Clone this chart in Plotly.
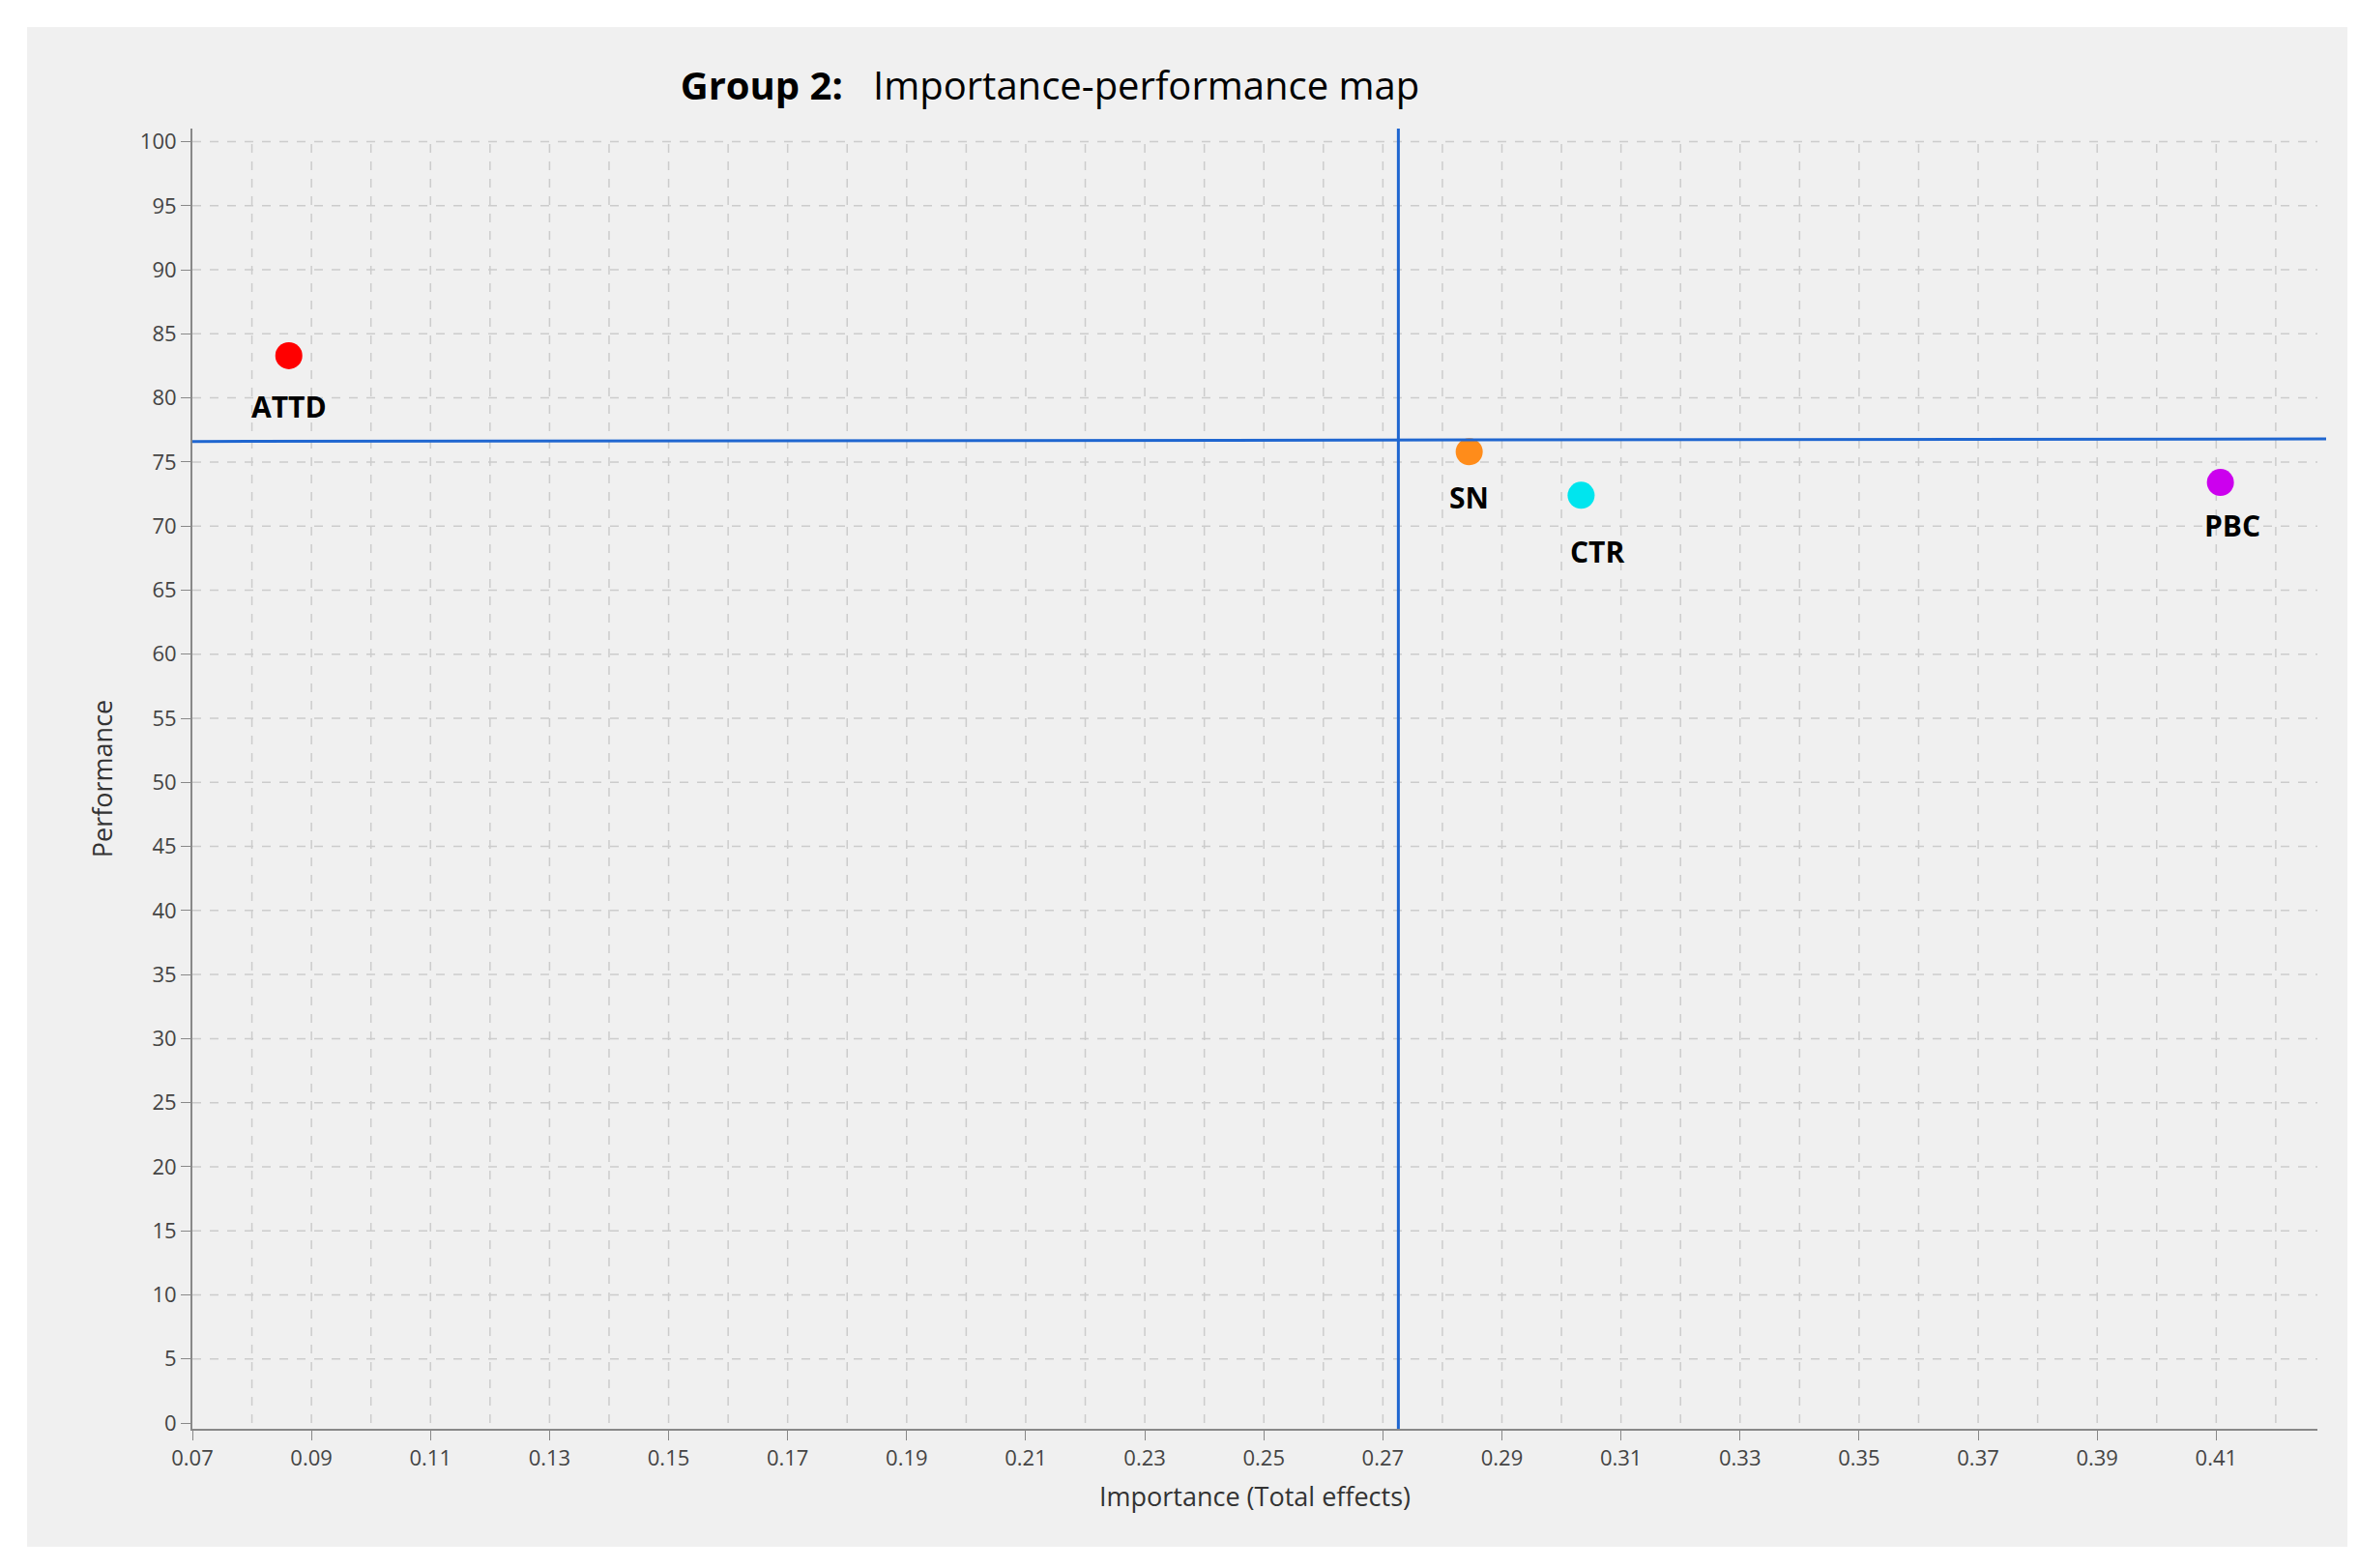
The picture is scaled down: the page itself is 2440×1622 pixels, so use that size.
import plotly.graph_objects as go

names = ["ATTD", "SN", "CTR", "PBC"]
importance = [0.0862, 0.2845, 0.3033, 0.4107]
performance = [83.3, 75.8, 72.4, 73.4]
colors = ["#ff0000", "#ff8c1a", "#00e5ee", "#cc00ee"]
label_dx = [0, 0, 17, 12]
label_dy = [-53, -47, -58, -44]
mean_importance = 0.2726
mean_performance = 76.7
xticks = [round(0.07 + 0.02 * i, 2) for i in range(18)]
yticks = list(range(0, 101, 5))

W, H = 2440, 1622
ml, mr, mt, mb = 191, 51, 125, 152
pw, ph = W - ml - mr, H - mt - mb

def px(x):
    return (x - ml) / pw
def py(y):
    return 1 - (y - mt) / ph

fig = go.Figure()
fig.add_trace(go.Scatter(x=importance, y=performance, mode="markers",
                         marker=dict(size=28, color=colors), showlegend=False))
for n, x, y, dx, dy in zip(names, importance, performance, label_dx, label_dy):
    fig.add_annotation(x=x, y=y, text="<b>%s</b>" % n, showarrow=False,
                       xshift=dx, yshift=dy, font=dict(size=30, color="black", family="Open Sans"))

fig.add_shape(type="rect", xref="paper", yref="paper", x0=px(20), x1=px(2420), y0=py(20), y1=py(1592),
              fillcolor="#f0f0f0", line=dict(width=0), layer="below")
fig.add_shape(type="line", x0=mean_importance, x1=mean_importance, yref="paper", y0=0, y1=1,
              line=dict(color="#1f66d0", width=3))
fig.add_shape(type="line", xref="paper", x0=0, x1=px(2398), y0=mean_performance - 0.1, y1=mean_performance + 0.1,
              line=dict(color="#1f66d0", width=3))

fig.update_layout(
    width=W, height=H, paper_bgcolor="white", plot_bgcolor="rgba(0,0,0,0)",
    margin=dict(l=ml, r=mr, t=mt, b=mb),
    font=dict(family="Open Sans", color="#444"),
    title=dict(text="<b>Group 2:</b>   Importance-performance map", xref="container", yref="container",
               x=1078 / W, xanchor="center", y=1 - 81 / H, yanchor="middle",
               font=dict(size=40, color="black", family="Open Sans")),
    xaxis=dict(range=[0.07, 0.427], tickvals=xticks, ticktext=["%.2f" % t for t in xticks],
               showgrid=False, zeroline=False, showline=True, linecolor="#888", linewidth=2,
               ticks="outside", ticklen=10, tickcolor="#888", tickfont=dict(size=22, color="#444"),
               title=dict(text="Importance (Total effects)", font=dict(size=27, color="#333"), standoff=18)),
    yaxis=dict(range=[-0.45, 101.02], tickvals=yticks, showgrid=False, zeroline=False,
               showline=True, linecolor="#888", linewidth=2, ticks="outside", ticklen=10, tickcolor="#888",
               tickfont=dict(size=22, color="#444"),
               title=dict(text="Performance", font=dict(size=27, color="#333"), standoff=20)),
)
for i in range(1, 36):
    v = 0.07 + 0.01 * i
    fig.add_shape(type="line", x0=v, x1=v, y0=0, y1=100, layer="below",
                  line=dict(color="#cccccc", width=1.5, dash="dash"))
for v in yticks[1:]:
    fig.add_shape(type="line", x0=0.07, x1=0.427, y0=v, y1=v, layer="below",
                  line=dict(color="#cccccc", width=1.5, dash="dash"))

fig.write_html("out.html")
